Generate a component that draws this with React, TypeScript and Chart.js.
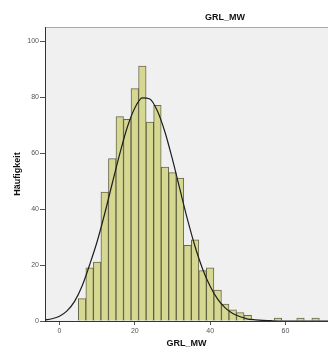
import { useEffect, useRef } from "react";
import { Chart, registerables } from "chart.js";

Chart.register(...registerables);

const chartTitle = "GRL_MW";
const xAxisTitle = "GRL_MW";
const yAxisTitle = "Häufigkeit";

// Histogram bins: lower edge of the first bin and the common bin width
const binStart = 5;
const binWidth = 2;
const binCounts = [
  8, 19, 21, 46, 58, 73, 72, 83, 91, 71, 77, 55, 53, 51, 27, 29, 18, 19, 11, 6,
  4, 3, 2, 0, 0, 0, 1, 0, 0, 1, 0, 1,
];

// Fitted normal curve (frequency scale)
const curveX = [
  -4, -2, 0, 2, 4, 6, 8, 10, 12, 14, 16, 18, 20, 22, 24, 26, 28, 30, 32, 34, 36,
  38, 40, 42, 44, 46, 48, 50, 52, 54, 56, 58, 60, 62, 64, 66, 68, 70, 72,
];
const curveY = [
  0.4, 0.8, 1.7, 3.6, 7.0, 12.5, 20.1, 28.4, 38.3, 49.1, 59.7, 69.2, 76.1, 79.7,
  79.3, 75.0, 67.5, 57.7, 46.9, 36.2, 26.6, 18.6, 12.4, 7.8, 4.7, 2.7, 1.5, 0.7,
  0.4, 0.2, 0.1, 0, 0, 0, 0, 0, 0, 0, 0,
];

const xTicks = [0, 20, 40, 60];
const yTicks = [0, 20, 40, 60, 80, 100];
const xRange = [-3.85, 71.3];
const yRange = [0, 105];

const FONT = "'Liberation Sans', Arial, sans-serif";

const plotFrame = {
  id: "plotFrame",
  beforeDraw(chart: any) {
    const { ctx, chartArea: a } = chart;
    ctx.save();
    ctx.fillStyle = "#f0f0f0";
    ctx.fillRect(a.left, a.top, a.right - a.left, a.bottom - a.top);
    ctx.strokeStyle = "#a8a8a8";
    ctx.lineWidth = 1;
    ctx.beginPath();
    ctx.moveTo(a.left, a.top + 0.5);
    ctx.lineTo(a.right, a.top + 0.5);
    ctx.stroke();
    ctx.restore();
  },
  afterDraw(chart: any) {
    const { ctx } = chart;
    ctx.save();
    ctx.fillStyle = "#111";
    ctx.font = `bold 9px ${FONT}`;
    ctx.textAlign = "center";
    ctx.textBaseline = "middle";
    ctx.fillText(chartTitle, 225, 17.5);
    ctx.restore();
  },
};

export default function App() {
  const canvasRef = useRef<HTMLCanvasElement>(null);

  useEffect(() => {
    document.body.style.margin = "0";
    const canvas = canvasRef.current;
    if (!canvas) return;

    const bars = binCounts.map((c, i) => ({
      x: binStart + binWidth * (i + 0.5),
      y: c,
    }));
    const curve = curveX.map((x, i) => ({ x, y: curveY[i] }));

    const chart = new Chart(canvas, {
      type: "bar",
      data: {
        datasets: [
          {
            type: "line",
            data: curve,
            borderColor: "#1e1e1e",
            borderWidth: 1.2,
            pointRadius: 0,
            cubicInterpolationMode: "monotone",
            fill: false,
            order: 0,
          } as any,
          {
            type: "bar",
            data: bars,
            backgroundColor: "#d6d892",
            borderColor: "rgba(70,70,35,0.8)",
            borderWidth: 1,
            barPercentage: 1,
            categoryPercentage: 1,
            order: 1,
          } as any,
        ],
      },
      options: {
        animation: false,
        responsive: false,
        devicePixelRatio: 1,
        layout: { padding: { top: 27, right: 0, left: 0, bottom: 0 } },
        plugins: {
          legend: { display: false },
          tooltip: { enabled: false },
          title: { display: false },
        },
        scales: {
          x: {
            type: "linear",
            min: xRange[0],
            max: xRange[1],
            offset: false,
            afterBuildTicks: (s: any) => {
              s.ticks = xTicks.map((v) => ({ value: v }));
            },
            afterFit: (s: any) => {
              s.height = 32;
            },
            grid: {
              offset: false,
              drawOnChartArea: false,
              drawTicks: true,
              tickLength: 4,
              color: "#555",
            },
            border: { display: true, color: "#333", width: 1 },
            ticks: {
              font: { family: FONT, size: 7 },
              color: "#555",
              padding: 2,
              maxRotation: 0,
            },
            title: {
              display: true,
              text: xAxisTitle,
              font: { family: FONT, size: 9, weight: "bold" },
              color: "#111",
              padding: { top: 0, bottom: 4 },
            },
          } as any,
          y: {
            type: "linear",
            min: yRange[0],
            max: yRange[1],
            afterBuildTicks: (s: any) => {
              s.ticks = yTicks.map((v) => ({ value: v }));
            },
            afterFit: (s: any) => {
              s.width = 45;
            },
            grid: {
              drawOnChartArea: false,
              drawTicks: true,
              tickLength: 5,
              color: "#555",
            },
            border: { display: true, color: "#333", width: 1 },
            ticks: {
              font: { family: FONT, size: 7 },
              color: "#555",
              padding: 1,
            },
            title: {
              display: true,
              text: yAxisTitle,
              font: { family: FONT, size: 9, weight: "bold" },
              color: "#111",
              padding: { top: 12, bottom: 0 },
            },
          } as any,
        },
      },
      plugins: [plotFrame],
    });

    return () => chart.destroy();
  }, []);

  return (
    <div style={{ width: 328, height: 353, background: "#fff" }}>
      <canvas ref={canvasRef} width={328} height={353} />
    </div>
  );
}
